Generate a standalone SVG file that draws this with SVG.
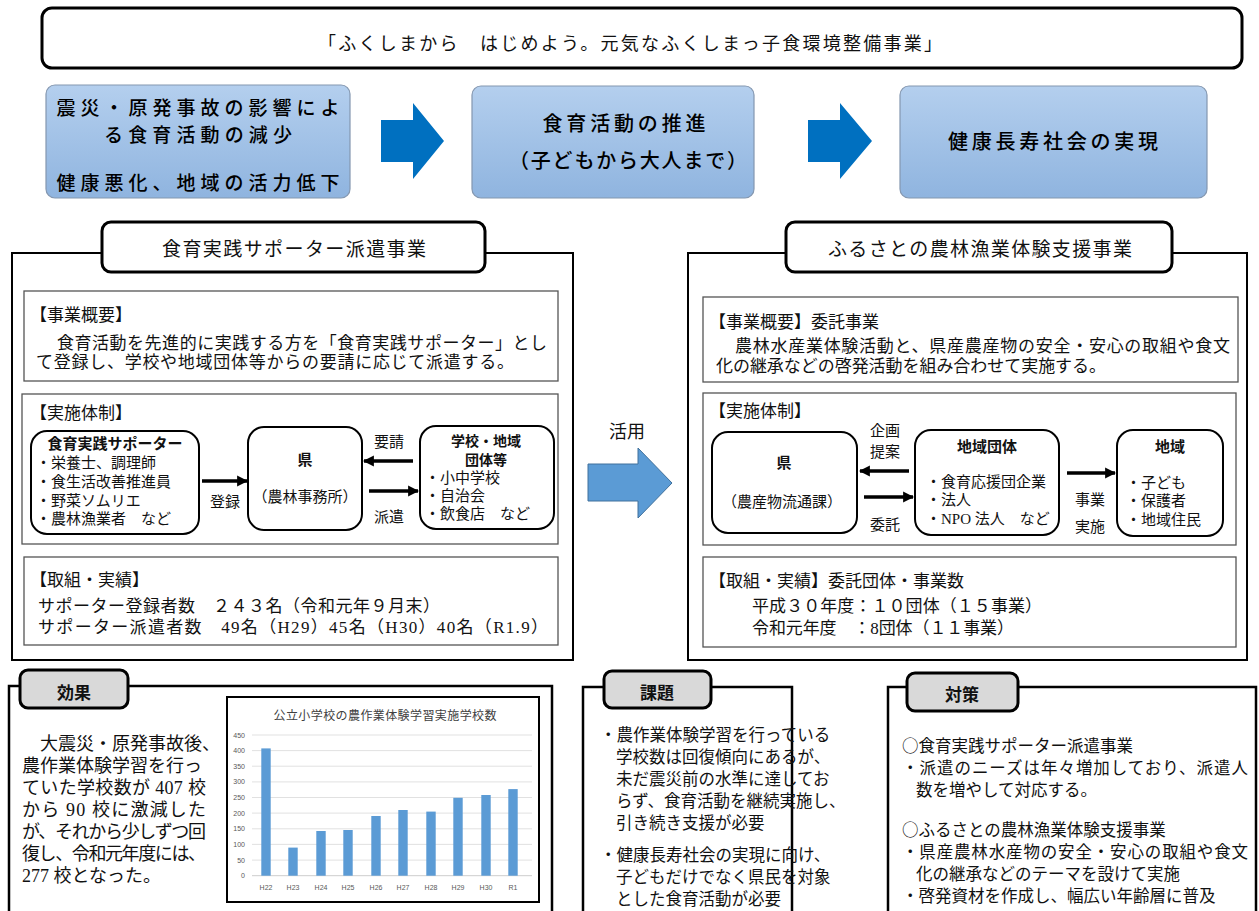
<svg xmlns="http://www.w3.org/2000/svg" width="1259" height="911" viewBox="0 0 1259 911">
<defs>
<style>
.s{font-family:"Noto Sans CJK JP","Noto Sans",sans-serif;fill:#111}
.m{font-family:"Liberation Serif","Noto Sans CJK JP",serif;fill:#111}
.b{font-weight:bold}
.c{text-anchor:middle}
.e{text-anchor:end}
.box{fill:#fff;stroke:#000;stroke-width:2}
.inner{fill:#fff;stroke:#555;stroke-width:1.3}
.node{fill:#fff;stroke:#000;stroke-width:2}
.hdr{fill:#fff;stroke:#000;stroke-width:3}
.tab{fill:#d9d9d9;stroke:#000;stroke-width:3}
.sec{fill:none;stroke:#000;stroke-width:2.5}
.blue{fill:url(#bg);stroke:#8497b0;stroke-width:1.2}
.bt{font-family:"Noto Sans CJK JP","Noto Sans",sans-serif;fill:#000;font-weight:500;text-anchor:middle}
.conn{stroke:#000;stroke-width:3.5;fill:none}
.grid{stroke:#d9d9d9;stroke-width:0.8}
.bar{fill:#5b9bd5}
.ax{font-family:"Liberation Sans","Noto Sans CJK JP",sans-serif;font-size:7px;fill:#595959}
</style>
<linearGradient id="bg" x1="0" y1="0" x2="0" y2="1">
<stop offset="0" stop-color="#b4cfee"/>
<stop offset="1" stop-color="#8fb4df"/>
</linearGradient>
<marker id="ah" viewBox="0 0 10 10" refX="9" refY="5" markerWidth="11" markerHeight="13" markerUnits="userSpaceOnUse" orient="auto">
<path d="M0,0 L10,5 L0,10 z" fill="#000"/>
</marker>
</defs>
<rect width="1259" height="911" fill="#fff"/>

<g id="title">
<rect x="42" y="8" width="1200" height="60" rx="10" fill="#fff" stroke="#000" stroke-width="3"/>
<text class="s" x="318" y="50" font-size="18" textLength="624" lengthAdjust="spacing">「ふくしまから　はじめよう。元気なふくしまっ子食環境整備事業」</text>
</g>

<g id="flow-impact">
<rect class="blue" x="46" y="85" width="304" height="113" rx="9"/>
<text class="bt" x="198" y="115" font-size="19" textLength="283" lengthAdjust="spacing">震災・原発事故の影響によ</text>
<text class="bt" x="198" y="142" font-size="19" textLength="188" lengthAdjust="spacing">る食育活動の減少</text>
<text class="bt" x="198" y="190" font-size="19" textLength="283" lengthAdjust="spacing">健康悪化、地域の活力低下</text>
</g>
<g id="flow-promotion">
<rect class="blue" x="472" y="86" width="282" height="112" rx="9"/>
<text class="bt" x="624" y="131" font-size="20" textLength="163" lengthAdjust="spacing">食育活動の推進</text>
<text class="bt" x="628" y="168" font-size="20" textLength="238" lengthAdjust="spacing">（子どもから大人まで）</text>
</g>
<g id="flow-goal">
<rect class="blue" x="900" y="86" width="307" height="112" rx="9"/>
<text class="bt" x="1053" y="149" font-size="20" textLength="210" lengthAdjust="spacing">健康長寿社会の実現</text>
</g>
<g id="flow-arrows" fill="#0070c0">
<polygon points="381,120 413,120 413,103 444,141 413,179 413,162 381,162"/>
<polygon points="808,120 840,120 840,103 872,141 840,179 840,162 808,162"/>
</g>

<g id="supporter-project">
<rect class="box" x="12" y="253" width="561" height="407"/>
<rect class="hdr" x="102" y="222" width="383" height="50" rx="9"/>
<text class="s c" x="294" y="256" font-size="19" textLength="264" lengthAdjust="spacing">食育実践サポーター派遣事業</text>
<rect class="inner" x="24" y="291" width="534" height="90"/>
<text class="m" x="30" y="321" font-size="17">【事業概要】</text>
<text class="m" x="57" y="349" font-size="17" textLength="490" lengthAdjust="spacing">食育活動を先進的に実践する方を「食育実践サポーター」とし</text>
<text class="m" x="36" y="368" font-size="17" textLength="478" lengthAdjust="spacing">て登録し、学校や地域団体等からの要請に応じて派遣する。</text>
<rect class="inner" x="22" y="394" width="536" height="150"/>
<text class="m" x="30" y="419" font-size="17">【実施体制】</text>
<rect class="inner" x="24" y="557" width="534" height="88"/>
<text class="m" x="30" y="586" font-size="17">【取組・実績】</text>
<text class="m" x="38" y="612" font-size="17" textLength="402" lengthAdjust="spacing">サポーター登録者数　２４３名（令和元年９月末）</text>
<text class="m" x="38" y="633" font-size="17" textLength="510" lengthAdjust="spacing">サポーター派遣者数　49名（H29）45名（H30）40名（R1.9）</text>
</g>
<g id="node-supporter">
<rect class="node" x="31" y="431" width="168" height="103" rx="16"/>
<text class="s b c" x="115" y="449" font-size="15">食育実践サポーター</text>
<text class="m" x="36" y="468" font-size="15">・栄養士、調理師</text>
<text class="m" x="36" y="487" font-size="15">・食生活改善推進員</text>
<text class="m" x="36" y="506" font-size="15">・野菜ソムリエ</text>
<text class="m" x="36" y="524" font-size="15">・農林漁業者　など</text>
</g>
<g id="node-pref-office">
<rect class="node" x="248" y="427" width="114" height="103" rx="16"/>
<text class="s b c" x="305" y="465" font-size="15">県</text>
<text class="m c" x="305" y="502" font-size="15">（農林事務所）</text>
</g>
<g id="node-school">
<rect class="node" x="420" y="426" width="134" height="103" rx="16"/>
<text class="s b c" x="486" y="446" font-size="14">学校・地域</text>
<text class="s b c" x="486" y="465" font-size="14">団体等</text>
<text class="m" x="425" y="483" font-size="15">・小中学校</text>
<text class="m" x="425" y="501" font-size="15">・自治会</text>
<text class="m" x="425" y="519" font-size="15">・飲食店　など</text>
</g>

<g id="use-arrow">
<text class="s c" x="627" y="438" font-size="18">活用</text>
<polygon points="588,464 638,464 638,448 672,483 638,518 638,501 588,501" fill="#5b9bd5" stroke="#41719c" stroke-width="1"/>
</g>

<g id="furusato-project">
<rect class="box" x="688" y="253" width="559" height="407"/>
<rect class="hdr" x="786" y="222" width="386" height="50" rx="9"/>
<text class="s c" x="980" y="256" font-size="19" textLength="304" lengthAdjust="spacing">ふるさとの農林漁業体験支援事業</text>
<rect class="inner" x="703" y="297" width="535" height="85"/>
<text class="m" x="709" y="328" font-size="17">【事業概要】委託事業</text>
<text class="m" x="735" y="352" font-size="17" textLength="495" lengthAdjust="spacing">農林水産業体験活動と、県産農産物の安全・安心の取組や食文</text>
<text class="m" x="716" y="372" font-size="17" textLength="390" lengthAdjust="spacing">化の継承などの啓発活動を組み合わせて実施する。</text>
<rect class="inner" x="703" y="393" width="533" height="152"/>
<text class="m" x="709" y="417" font-size="17">【実施体制】</text>
<rect class="inner" x="703" y="557" width="533" height="90"/>
<text class="m" x="709" y="587" font-size="17">【取組・実績】委託団体・事業数</text>
<text class="m" x="752" y="612" font-size="17" textLength="290" lengthAdjust="spacing">平成３０年度：１０団体（１５事業）</text>
<text class="m" x="752" y="634" font-size="17" textLength="262" lengthAdjust="spacing">令和元年度　：8団体（１１事業）</text>
</g>
<g id="node-pref-division">
<rect class="node" x="712" y="432" width="145" height="101" rx="16"/>
<text class="s b c" x="784" y="468" font-size="15">県</text>
<text class="m c" x="782" y="507" font-size="15">（農産物流通課）</text>
</g>
<g id="node-groups">
<rect class="node" x="915" y="430" width="144" height="105" rx="16"/>
<text class="s b c" x="987" y="452" font-size="15">地域団体</text>
<text class="m" x="926" y="487" font-size="15">・食育応援団企業</text>
<text class="m" x="926" y="505" font-size="15">・法人</text>
<text class="m" x="926" y="524" font-size="15">・NPO 法人　など</text>
</g>
<g id="node-region">
<rect class="node" x="1117" y="430" width="106" height="106" rx="16"/>
<text class="s b c" x="1170" y="452" font-size="15">地域</text>
<text class="m" x="1126" y="488" font-size="15">・子ども</text>
<text class="m" x="1126" y="506" font-size="15">・保護者</text>
<text class="m" x="1126" y="525" font-size="15">・地域住民</text>
</g>

<g id="connectors">
<line class="conn" x1="202" y1="481" x2="247" y2="481" marker-end="url(#ah)"/>
<line class="conn" x1="413" y1="461" x2="364" y2="461" marker-end="url(#ah)"/>
<line class="conn" x1="369" y1="491" x2="418" y2="491" marker-end="url(#ah)"/>
<line class="conn" x1="909" y1="471" x2="860" y2="471" marker-end="url(#ah)"/>
<line class="conn" x1="864" y1="497" x2="913" y2="497" marker-end="url(#ah)"/>
<line class="conn" x1="1067" y1="473" x2="1115" y2="473" marker-end="url(#ah)"/>
<text class="m c" x="225" y="507" font-size="15">登録</text>
<text class="m c" x="389" y="447" font-size="15">要請</text>
<text class="m c" x="389" y="522" font-size="15">派遣</text>
<text class="m c" x="885" y="436" font-size="15">企画</text>
<text class="m c" x="885" y="457" font-size="15">提案</text>
<text class="m c" x="885" y="530" font-size="15">委託</text>
<text class="m c" x="1090" y="505" font-size="15">事業</text>
<text class="m c" x="1090" y="532" font-size="15">実施</text>
</g>

<g id="effect">
<path class="sec" d="M9,911 V686 H552 V911"/>
<rect class="tab" x="20" y="670" width="108" height="38" rx="8"/>
<text class="s b c" x="74" y="699" font-size="17">効果</text>
<text class="m" x="40" y="750" font-size="18">大震災・原発事故後、</text>
<text class="m" x="22" y="772" font-size="18">農作業体験学習を行っ</text>
<text class="m" x="22" y="794" font-size="18" textLength="184" lengthAdjust="spacing">ていた学校数が 407 校</text>
<text class="m" x="22" y="816" font-size="18" textLength="184" lengthAdjust="spacing">から 90 校に激減した</text>
<text class="m" x="22" y="838" font-size="18" textLength="184" lengthAdjust="spacing">が、それから少しずつ回</text>
<text class="m" x="22" y="860" font-size="18" textLength="184" lengthAdjust="spacing">復し、令和元年度には、</text>
<text class="m" x="22" y="882" font-size="18">277 校となった。</text>
</g>

<g id="chart">
<rect x="227" y="697" width="312" height="205" fill="#fff" stroke="#000" stroke-width="2"/>
<text class="s c" x="385" y="720" font-size="12" style="fill:#404040" textLength="223" lengthAdjust="spacing">公立小学校の農作業体験学習実施学校数</text>
<g class="grid">
<line x1="252" y1="735" x2="532" y2="735"/>
<line x1="252" y1="750.6" x2="532" y2="750.6"/>
<line x1="252" y1="766.2" x2="532" y2="766.2"/>
<line x1="252" y1="781.9" x2="532" y2="781.9"/>
<line x1="252" y1="797.5" x2="532" y2="797.5"/>
<line x1="252" y1="813.1" x2="532" y2="813.1"/>
<line x1="252" y1="828.8" x2="532" y2="828.8"/>
<line x1="252" y1="844.4" x2="532" y2="844.4"/>
<line x1="252" y1="860.1" x2="532" y2="860.1"/>
<line x1="252" y1="875.7" x2="532" y2="875.7" stroke="#bfbfbf"/>
</g>
<g class="ax">
<text class="e" x="245" y="738">450</text>
<text class="e" x="245" y="753">400</text>
<text class="e" x="245" y="769">350</text>
<text class="e" x="245" y="784">300</text>
<text class="e" x="245" y="800">250</text>
<text class="e" x="245" y="816">200</text>
<text class="e" x="245" y="831">150</text>
<text class="e" x="245" y="847">100</text>
<text class="e" x="245" y="863">50</text>
<text class="e" x="245" y="878">0</text>
<text class="c" x="266" y="890">H22</text>
<text class="c" x="293" y="890">H23</text>
<text class="c" x="321" y="890">H24</text>
<text class="c" x="348" y="890">H25</text>
<text class="c" x="376" y="890">H26</text>
<text class="c" x="403" y="890">H27</text>
<text class="c" x="431" y="890">H28</text>
<text class="c" x="458" y="890">H29</text>
<text class="c" x="486" y="890">H30</text>
<text class="c" x="513" y="890">R1</text>
</g>
<g class="bar">
<rect x="261.3" y="748.4" width="9.4" height="127.3"/>
<rect x="288.3" y="847.6" width="9.4" height="28.1"/>
<rect x="316.3" y="831" width="9.4" height="44.7"/>
<rect x="343.3" y="830" width="9.4" height="45.7"/>
<rect x="371.3" y="816" width="9.4" height="59.7"/>
<rect x="398.3" y="810" width="9.4" height="65.7"/>
<rect x="426.3" y="811.6" width="9.4" height="64.1"/>
<rect x="453.3" y="797.8" width="9.4" height="77.9"/>
<rect x="481.3" y="795" width="9.4" height="80.7"/>
<rect x="508.3" y="789.1" width="9.4" height="86.6"/>
</g>
</g>

<g id="issues">
<path class="sec" d="M583,911 V687 H792 V911"/>
<rect class="tab" x="604" y="671" width="107" height="37" rx="8"/>
<text class="s b c" x="657" y="699" font-size="17">課題</text>
<text class="s" x="600" y="741" font-size="16.5">・農作業体験学習を行っている</text>
<text class="s" x="616" y="763" font-size="16.5">学校数は回復傾向にあるが、</text>
<text class="s" x="616" y="785" font-size="16.5">未だ震災前の水準に達してお</text>
<text class="s" x="616" y="807" font-size="16.5">らず、食育活動を継続実施し、</text>
<text class="s" x="616" y="829" font-size="16.5">引き続き支援が必要</text>
<text class="s" x="600" y="861" font-size="16.5">・健康長寿社会の実現に向け、</text>
<text class="s" x="616" y="883" font-size="16.5">子どもだけでなく県民を対象</text>
<text class="s" x="616" y="905" font-size="16.5">とした食育活動が必要</text>
</g>

<g id="measures">
<path class="sec" d="M888,911 V687 H1256 V911"/>
<rect class="tab" x="907" y="673" width="111" height="38" rx="8"/>
<text class="s b c" x="962" y="701" font-size="17">対策</text>
<text class="s" x="902" y="752" font-size="16.5">○食育実践サポーター派遣事業</text>
<text class="s" x="902" y="774" font-size="16.5" textLength="346" lengthAdjust="spacing">・派遣のニーズは年々増加しており、派遣人</text>
<text class="s" x="916" y="796" font-size="16.5">数を増やして対応する。</text>
<text class="s" x="902" y="836" font-size="16.5">○ふるさとの農林漁業体験支援事業</text>
<text class="s" x="902" y="858" font-size="16.5" textLength="346" lengthAdjust="spacing">・県産農林水産物の安全・安心の取組や食文</text>
<text class="s" x="916" y="880" font-size="16.5">化の継承などのテーマを設けて実施</text>
<text class="s" x="902" y="902" font-size="16.5">・啓発資材を作成し、幅広い年齢層に普及</text>
</g>
</svg>
